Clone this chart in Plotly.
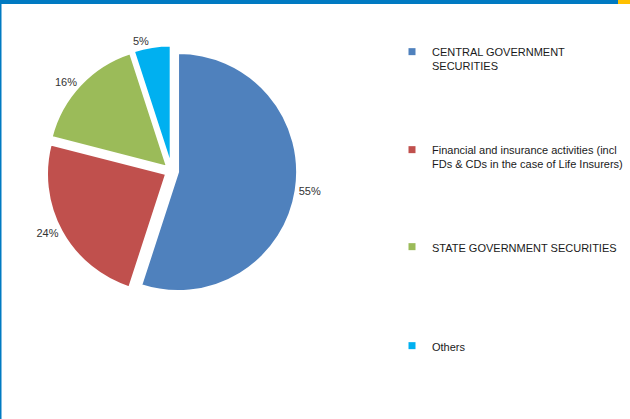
import plotly.graph_objects as go

# Investment mix (percent of total)
categories = [
    "CENTRAL GOVERNMENT<br>SECURITIES",
    "Financial and insurance activities (incl<br>FDs & CDs in the case of Life Insurers)",
    "STATE GOVERNMENT SECURITIES",
    "Others",
]
shares = [55, 24, 16, 5]
colors = ["#4F81BD", "#C0504D", "#9BBB59", "#00B0F0"]

W, H = 630, 419
FONT = "Arial, Liberation Sans, sans-serif"

fig = go.Figure()

fig.add_trace(go.Pie(
    labels=categories,
    values=shares,
    sort=False,
    direction="clockwise",
    rotation=0,
    pull=[0.054] * len(shares),
    marker=dict(colors=colors, line=dict(color="white", width=2)),
    texttemplate="%{value}%",
    textposition="outside",
    textfont=dict(family=FONT, size=11, color="#333333"),
    outsidetextfont=dict(family=FONT, size=11, color="#333333"),
    domain=dict(x=[46.2 / W, 297.2 / W], y=[(248 - 125.5) / H, (248 + 125.5) / H]),
    showlegend=False,
    hoverinfo="label+percent",
))

# legend entries, one legend per item so they can be spaced like the original
legend_tops = [38, 136, 233, 332]
legend_names = ["legend", "legend2", "legend3", "legend4"]
for name, color, lg in zip(categories, colors, legend_names):
    fig.add_trace(go.Scatter(
        x=[None], y=[None], mode="markers", name=name,
        marker=dict(symbol="square", size=7, color=color),
        legend=lg, showlegend=True, hoverinfo="skip",
    ))

legend_style = dict(
    x=392 / W, xanchor="left", yanchor="top",
    font=dict(family=FONT, size=11, color="#1a1a1a"),
    valign="top", bgcolor="rgba(0,0,0,0)", itemwidth=30,
)
layout_legends = {}
for lg, top in zip(legend_names, legend_tops):
    layout_legends[lg] = dict(legend_style, y=1 - top / H)

fig.update_layout(
    template="none",
    width=W, height=H,
    margin=dict(l=0, r=0, t=0, b=0),
    font=dict(family=FONT, color="#333333"),
    paper_bgcolor="white",
    plot_bgcolor="white",
    xaxis=dict(visible=False),
    yaxis=dict(visible=False),
    **layout_legends,
)

# frame decoration: top band and left edge
fig.add_shape(type="rect", xref="paper", yref="paper",
              x0=0, x1=618 / W, y0=1 - 4 / H, y1=1,
              fillcolor="#007AC2", line_width=0, layer="above")
fig.add_shape(type="rect", xref="paper", yref="paper",
              x0=618 / W, x1=1, y0=1 - 4 / H, y1=1,
              fillcolor="#FFC000", line_width=0, layer="above")
fig.add_shape(type="rect", xref="paper", yref="paper",
              x0=0, x1=1.5 / W, y0=0, y1=1,
              fillcolor="#007AC2", line_width=0, layer="above")

# page has a default body margin; drop it so the figure sits at the window corner
fig.write_html("out.html", config={"displayModeBar": False},
               post_script="document.body.style.margin='0';")
